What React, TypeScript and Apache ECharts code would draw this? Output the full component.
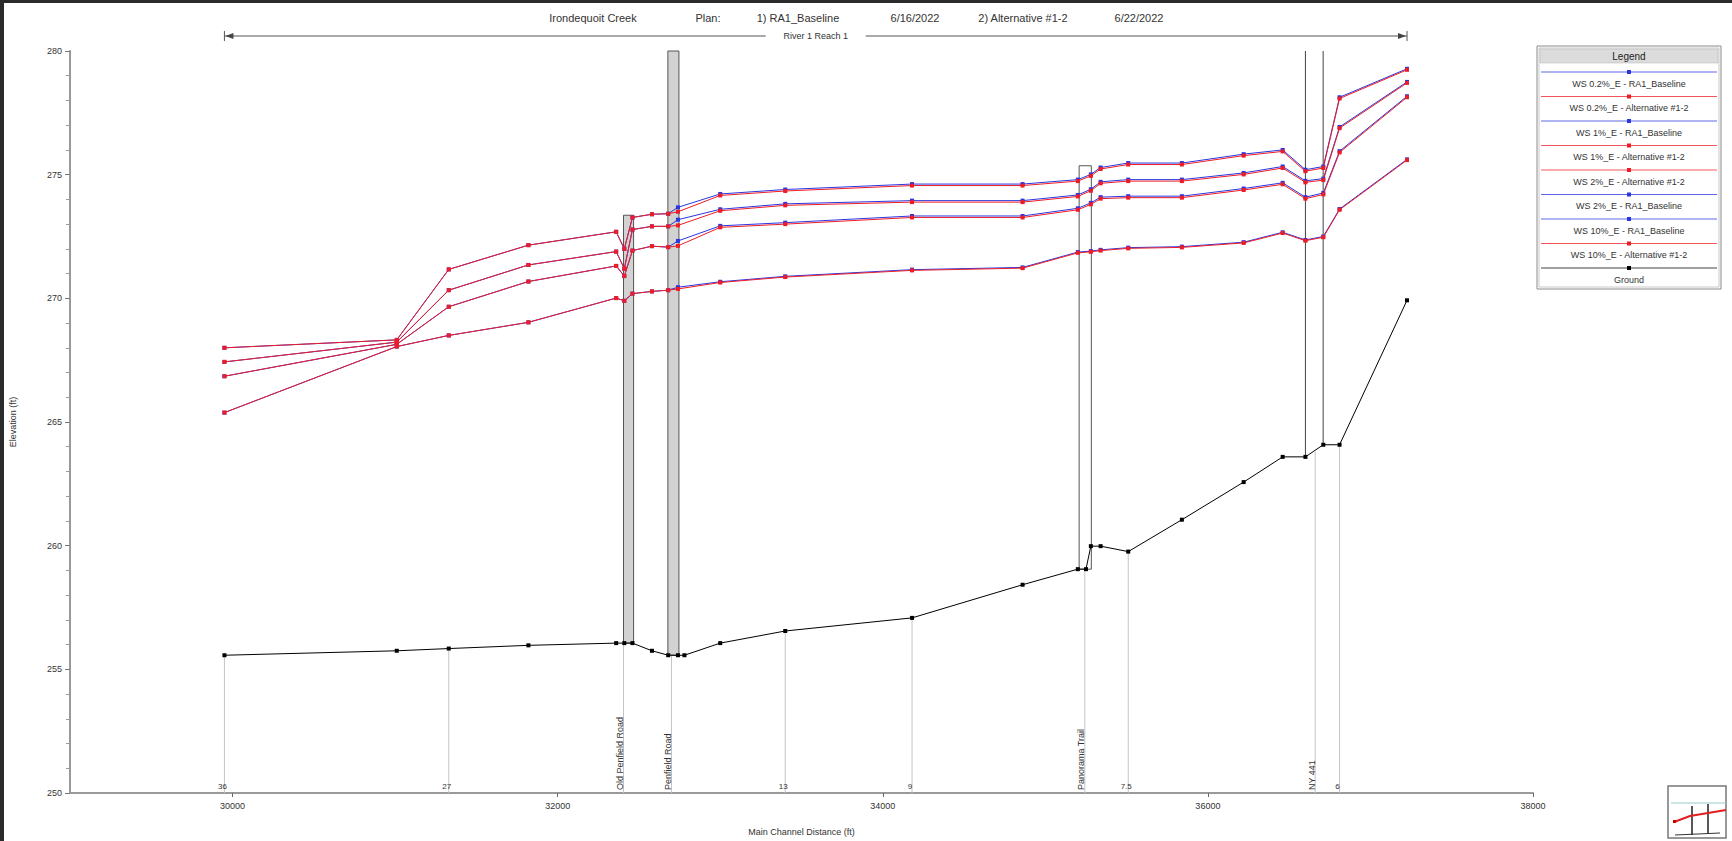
import React, { useEffect, useRef } from "react";
import * as echarts from "echarts";

// ---------- data ----------
const wsX = [29950, 31010, 31330, 31820, 32360, 32410, 32460, 32580, 32680, 32740, 33000, 33400, 34180, 34860, 35200, 35280, 35340, 35510, 35840, 36220, 36460, 36600, 36710, 36810, 37225];

const ws02Alt = [268.0, 268.32, 271.17, 272.15, 272.69, 272.0, 273.27, 273.4, 273.42, 273.5, 274.16, 274.34, 274.56, 274.56, 274.74, 274.95, 275.23, 275.41, 275.41, 275.77, 275.94, 275.14, 275.27, 278.08, 279.24];
const ws02Base = [268.0, 268.32, 271.17, 272.15, 272.69, 272.0, 273.27, 273.4, 273.42, 273.68, 274.22, 274.4, 274.62, 274.62, 274.8, 275.01, 275.29, 275.47, 275.47, 275.83, 276.0, 275.2, 275.33, 278.13, 279.28];
const ws1Alt = [267.43, 268.23, 270.33, 271.35, 271.89, 271.2, 272.78, 272.91, 272.91, 272.95, 273.54, 273.76, 273.89, 273.89, 274.12, 274.35, 274.65, 274.74, 274.74, 275.01, 275.27, 274.69, 274.78, 276.88, 278.71];
const ws1Base = [267.43, 268.23, 270.33, 271.35, 271.89, 271.2, 272.78, 272.91, 272.91, 273.18, 273.6, 273.82, 273.95, 273.95, 274.18, 274.41, 274.71, 274.8, 274.8, 275.07, 275.33, 274.75, 274.84, 276.93, 278.75];
const ws2Alt = [266.85, 268.14, 269.66, 270.68, 271.31, 270.9, 271.93, 272.11, 272.07, 272.12, 272.87, 273.0, 273.27, 273.27, 273.58, 273.8, 274.03, 274.07, 274.07, 274.38, 274.61, 274.03, 274.2, 275.9, 278.13];
const ws2Base = [266.85, 268.14, 269.66, 270.68, 271.31, 270.9, 271.93, 272.11, 272.07, 272.32, 272.93, 273.06, 273.33, 273.33, 273.64, 273.86, 274.09, 274.13, 274.13, 274.44, 274.67, 274.09, 274.26, 275.95, 278.17];
const ws10Alt = [265.38, 268.05, 268.5, 269.03, 270.01, 269.9, 270.19, 270.28, 270.33, 270.38, 270.64, 270.86, 271.13, 271.22, 271.84, 271.88, 271.93, 272.02, 272.06, 272.24, 272.64, 272.33, 272.47, 273.58, 275.59];
const ws10Base = [265.38, 268.05, 268.5, 269.03, 270.01, 269.9, 270.19, 270.28, 270.33, 270.45, 270.67, 270.89, 271.16, 271.25, 271.87, 271.91, 271.96, 272.05, 272.09, 272.27, 272.67, 272.36, 272.5, 273.61, 275.62];

const groundX = [29950, 31010, 31330, 31820, 32360, 32410, 32460, 32580, 32680, 32740, 32780, 33000, 33400, 34180, 34860, 35200, 35250, 35280, 35340, 35510, 35840, 36220, 36460, 36600, 36710, 36810, 37225];
const groundY = [255.57, 255.75, 255.84, 255.97, 256.06, 256.06, 256.06, 255.75, 255.57, 255.57, 255.57, 256.06, 256.55, 257.08, 258.42, 259.05, 259.05, 259.98, 259.98, 259.76, 261.05, 262.57, 263.59, 263.59, 264.08, 264.08, 269.92];

// bridges / structures
const structX1 = [32405, 32678, 35208, 36600];
const structX2 = [32467, 32746, 35283, 36709];
const structBottomL = [256.06, 255.57, 259.05, 263.59];
const structBottomR = [256.06, 255.57, 259.05, 264.08];
const structTop = [273.36, 280.0, 275.36, 280.0];
const structKind = ["filled", "filled", "open", "piers"];

// labelled cross sections
const xsX = [29950, 31330, 32405, 32700, 33400, 34180, 35243, 35510, 36660, 36810];
const xsGround = [255.57, 255.84, 256.06, 255.57, 256.55, 257.08, 259.05, 259.76, 263.8, 264.08];
const xsLabel = ["36", "27", "Old Penfield Road", "Penfield Road", "13", "9", "Panorama Trail", "7.5", "NY 441", "6"];

const reachStart = 29950;
const reachEnd = 37225;

const xTickValues = [30000, 32000, 34000, 36000, 38000];

const titleParts = ["Irondequoit Creek", "Plan:", "1) RA1_Baseline", "6/16/2022", "2) Alternative #1-2", "6/22/2022"];
const titleCenters = [593, 708, 798, 915, 1023, 1139];

const BLUE = "#2a36e0";
const RED = "#ee1d25";
const FONT = "'Liberation Sans', Arial, sans-serif";

const wsSeriesDefs = [
  { name: "WS 0.2%_E - RA1_Baseline", values: ws02Base, color: BLUE, z: 3 },
  { name: "WS 0.2%_E - Alternative #1-2", values: ws02Alt, color: RED, z: 4 },
  { name: "WS 1%_E - RA1_Baseline", values: ws1Base, color: BLUE, z: 3 },
  { name: "WS 1%_E - Alternative #1-2", values: ws1Alt, color: RED, z: 4 },
  { name: "WS 2%_E - Alternative #1-2", values: ws2Alt, color: RED, z: 4 },
  { name: "WS 2%_E - RA1_Baseline", values: ws2Base, color: BLUE, z: 3 },
  { name: "WS 10%_E - RA1_Baseline", values: ws10Base, color: BLUE, z: 3 },
  { name: "WS 10%_E - Alternative #1-2", values: ws10Alt, color: RED, z: 4 },
];

function buildLegend() {
  const x0 = 1537, y0 = 46, w = 184, h = 243;
  const items = [...wsSeriesDefs.map((d) => ({ name: d.name, color: d.color })), { name: "Ground", color: "#000" }];
  const children: any[] = [
    { type: "rect", shape: { x: x0, y: y0, width: w, height: h }, style: { fill: "#fff", stroke: "#8a8a8a", lineWidth: 1 } },
    { type: "rect", shape: { x: x0 + 2, y: y0 + 2, width: w - 4, height: h - 4 }, style: { fill: "none", stroke: "#c8c8c8", lineWidth: 1 } },
    { type: "rect", shape: { x: x0 + 3, y: y0 + 3, width: w - 6, height: 14 }, style: { fill: "#dcdcdc", stroke: "#b0b0b0", lineWidth: 0.5 } },
    { type: "text", x: x0 + w / 2, y: y0 + 10, style: { text: "Legend", fill: "#222", fontSize: 10, fontFamily: FONT, align: "center", verticalAlign: "middle" } },
  ];
  items.forEach((it, i) => {
    const ly = 72 + i * 24.5;
    const cx = x0 + w / 2;
    children.push({ type: "line", shape: { x1: x0 + 4, y1: ly, x2: x0 + w - 4, y2: ly }, style: { stroke: it.color, lineWidth: 1, opacity: 0.75 } });
    children.push({ type: "rect", shape: { x: cx - 2, y: ly - 2, width: 4, height: 4 }, style: { fill: it.color } });
    children.push({ type: "text", x: cx, y: ly + 11.5, style: { text: it.name, fill: "#333", fontSize: 9, fontFamily: FONT, align: "center", verticalAlign: "middle" } });
  });
  return { type: "group", children };
}

function buildIcon() {
  return {
    type: "group",
    children: [
      { type: "rect", shape: { x: 1668, y: 786, width: 58, height: 52 }, style: { fill: "#fff", stroke: "#777", lineWidth: 1.5 } },
      { type: "line", shape: { x1: 1671, y1: 803, x2: 1726, y2: 803 }, style: { stroke: "#9cc", lineWidth: 1 } },
      { type: "line", shape: { x1: 1692, y1: 806, x2: 1692, y2: 835 }, style: { stroke: "#222", lineWidth: 1.5 } },
      { type: "line", shape: { x1: 1708, y1: 804, x2: 1708, y2: 833 }, style: { stroke: "#222", lineWidth: 1.5 } },
      { type: "line", shape: { x1: 1675, y1: 835, x2: 1720, y2: 833 }, style: { stroke: "#333", lineWidth: 1 } },
      { type: "polyline", shape: { points: [[1674, 822], [1690, 816], [1726, 810]] }, style: { stroke: "#e02020", lineWidth: 2, fill: "none" } },
      { type: "rect", shape: { x: 1673, y: 820, width: 3, height: 3 }, style: { fill: "#c00" } },
    ],
  };
}

function buildOption(): any {
  const graphic: any[] = [
    { type: "rect", shape: { x: 0, y: 0, width: 4, height: 841 }, style: { fill: "#2b2b2b" } },
    { type: "rect", shape: { x: 0, y: 0, width: 1732, height: 3 }, style: { fill: "#2b2b2b" } },
    ...titleParts.map((t, i) => ({
      type: "text",
      x: titleCenters[i],
      y: 18,
      style: { text: t, fill: "#333", fontSize: 11, fontFamily: FONT, align: "center", verticalAlign: "middle" },
    })),
    buildLegend(),
    buildIcon(),
  ];

  const series: any[] = [];

  series.push({
    type: "custom",
    name: "structures",
    z: 1,
    silent: true,
    encode: { x: [0, 1], y: [2, 3, 4] },
    data: structX1.map((x, i) => [x, structX2[i], structBottomL[i], structBottomR[i], structTop[i]]),
    renderItem: (params: any, api: any) => {
      const i = params.dataIndex;
      const x1 = api.value(0), x2 = api.value(1), bl = api.value(2), br = api.value(3), t = api.value(4);
      const pTL = api.coord([x1, t]);
      const pTR = api.coord([x2, t]);
      const pBL = api.coord([x1, bl]);
      const pBR = api.coord([x2, br]);
      const kind = structKind[i];
      if (kind === "piers") {
        return {
          type: "group",
          children: [
            { type: "line", shape: { x1: pTL[0], y1: pTL[1], x2: pBL[0], y2: pBL[1] }, style: { stroke: "#444", lineWidth: 1 } },
            { type: "line", shape: { x1: pTR[0], y1: pTR[1], x2: pBR[0], y2: pBR[1] }, style: { stroke: "#444", lineWidth: 1 } },
          ],
        };
      }
      return {
        type: "rect",
        shape: { x: pTL[0], y: pTL[1], width: pTR[0] - pTL[0], height: Math.max(pBL[1], pBR[1]) - pTL[1] },
        style: { fill: kind === "filled" ? "#d2d2d2" : "#ffffff", stroke: "#555", lineWidth: 1 },
      };
    },
  });

  series.push({
    type: "custom",
    name: "cross sections",
    z: 1,
    silent: true,
    encode: { x: 0, y: 1 },
    data: xsX.map((x, i) => [x, xsGround[i]]),
    renderItem: (params: any, api: any) => {
      const i = params.dataIndex;
      const top = api.coord([api.value(0), api.value(1)]);
      const bot = api.coord([api.value(0), 250]);
      const label = xsLabel[i];
      const rotated = label.length > 3;
      const children: any[] = [
        { type: "line", shape: { x1: top[0], y1: top[1], x2: bot[0], y2: bot[1] }, style: { stroke: "#c4c4c4", lineWidth: 1 } },
      ];
      if (rotated) {
        children.push({
          type: "text",
          x: bot[0] + 1,
          y: bot[1] - 3,
          rotation: Math.PI / 2,
          style: { text: label, fill: "#333", fontSize: 9, fontFamily: FONT, align: "left", verticalAlign: "bottom" },
        });
      } else {
        children.push({
          type: "text",
          x: bot[0] - 2,
          y: bot[1] - 3,
          style: { text: label, fill: "#333", fontSize: 8, fontFamily: FONT, align: "center", verticalAlign: "bottom" },
        });
      }
      return { type: "group", children };
    },
  });

  series.push({
    type: "custom",
    name: "reach",
    z: 1,
    silent: true,
    encode: { x: [0, 1], y: 2 },
    data: [[reachStart, reachEnd, 280]],
    renderItem: (params: any, api: any) => {
      const a = api.coord([api.value(0), api.value(2)]);
      const b = api.coord([api.value(1), api.value(2)]);
      const y = a[1] - 15;
      const mid = (a[0] + b[0]) / 2;
      const st = { stroke: "#555", lineWidth: 1 };
      return {
        type: "group",
        children: [
          { type: "line", shape: { x1: a[0], y1: y, x2: mid - 50, y2: y }, style: st },
          { type: "line", shape: { x1: mid + 50, y1: y, x2: b[0], y2: y }, style: st },
          { type: "line", shape: { x1: a[0], y1: y - 5, x2: a[0], y2: y + 5 }, style: st },
          { type: "line", shape: { x1: b[0], y1: y - 5, x2: b[0], y2: y + 5 }, style: st },
          { type: "polygon", shape: { points: [[a[0] + 1, y], [a[0] + 9, y - 3], [a[0] + 9, y + 3]] }, style: { fill: "#444" } },
          { type: "polygon", shape: { points: [[b[0] - 1, y], [b[0] - 9, y - 3], [b[0] - 9, y + 3]] }, style: { fill: "#444" } },
          { type: "text", x: mid, y: y, style: { text: "River 1 Reach 1", fill: "#333", fontSize: 9, fontFamily: FONT, align: "center", verticalAlign: "middle" } },
        ],
      };
    },
  });

  series.push({
    type: "line",
    name: "Ground",
    z: 5,
    silent: true,
    data: groundX.map((x, i) => [x, groundY[i]]),
    symbol: "rect",
    symbolSize: 4,
    showSymbol: true,
    lineStyle: { color: "#000", width: 1 },
    itemStyle: { color: "#000" },
  });

  wsSeriesDefs.forEach((d) => {
    series.push({
      type: "line",
      name: d.name,
      z: d.z,
      silent: true,
      data: wsX.map((x, i) => [x, d.values[i]]),
      symbol: "rect",
      symbolSize: 4,
      showSymbol: true,
      lineStyle: { color: d.color, width: 1 },
      itemStyle: { color: d.color },
    });
  });

  return {
    animation: false,
    backgroundColor: "#fff",
    textStyle: { fontFamily: FONT },
    grid: { left: 66, top: 51, width: 1467, height: 743, containLabel: false },
    xAxis: {
      type: "value",
      min: 29000,
      max: 38000,
      name: "Main Channel Distance (ft)",
      nameLocation: "middle",
      nameGap: 34,
      nameTextStyle: { fontSize: 9, color: "#333", fontFamily: FONT },
      axisLine: { show: true, lineStyle: { color: "#9a9a9a", width: 2 } },
      axisTick: { show: true, length: 4, customValues: xTickValues, lineStyle: { color: "#666" } },
      axisLabel: {
        customValues: xTickValues,
        fontSize: 9,
        color: "#333",
        margin: 8,
        fontFamily: FONT,
        formatter: (v: number) => String(v),
      },
      splitLine: { show: false },
    },
    yAxis: {
      type: "value",
      min: 250,
      max: 280,
      interval: 5,
      name: "Elevation (ft)",
      nameLocation: "middle",
      nameGap: 53,
      nameTextStyle: { fontSize: 9, color: "#333", fontFamily: FONT },
      axisLine: { show: true, lineStyle: { color: "#9a9a9a", width: 2 } },
      axisTick: { show: true, length: 5, lineStyle: { color: "#777" } },
      minorTick: { show: true, splitNumber: 5, length: 4, lineStyle: { color: "#999" } },
      axisLabel: { fontSize: 9, color: "#333", margin: 8, fontFamily: FONT },
      splitLine: { show: false },
    },
    graphic,
    series,
  };
}

export default function App() {
  const ref = useRef<HTMLDivElement>(null);
  useEffect(() => {
    if (!ref.current) return;
    const chart = echarts.init(ref.current, null, { renderer: "svg" });
    chart.setOption(buildOption());
    return () => chart.dispose();
  }, []);
  return (
    <div
      ref={ref}
      style={{ position: "fixed", left: 0, top: 0, width: 1732, height: 841, background: "#fff" }}
    />
  );
}
